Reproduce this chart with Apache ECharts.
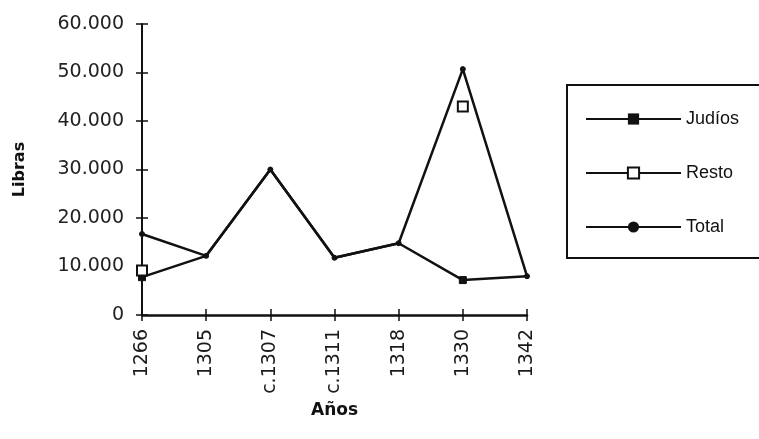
<!DOCTYPE html>
<html>
<head>
<meta charset="utf-8">
<script src="https://cdn.jsdelivr.net/npm/echarts@6/dist/echarts.min.js"></script>
<style>html,body{margin:0;padding:0;background:#fff}#c{width:759px;height:439px}</style>
</head>
<body>
<div id="c"></div>
<script>
var categories = ['1266', '1305', 'c.1307', 'c.1311', '1318', '1330', '1342'];
var judios = [7800, 12200, 30000, 11800, 14800, 7200, 8000];
var resto = [9200, null, null, null, null, 43000, null];
var total = [16700, 12200, 30000, 11800, 14800, 50700, 8000];
var yTicks = [0, 10000, 20000, 30000, 40000, 50000, 60000];

function fmt(v) {
  return String(v).replace(/\B(?=(\d{3})+(?!\d))/g, '.');
}

var chart = echarts.init(document.getElementById('c'));
var font = 'DejaVu Sans, Verdana, sans-serif';
var lfont = 'Liberation Sans, Arial, sans-serif';
var yMin = yTicks[0], yMax = yTicks[yTicks.length - 1];
chart.setOption({
  animation: false,
  backgroundColor: '#fff',
  grid: { left: 142, right: 232, top: 24, bottom: 124, containLabel: false, outerBoundsMode: 'none' },
  xAxis: [{
    type: 'category',
    data: categories,
    boundaryGap: false,
    name: 'Años',
    nameLocation: 'middle',
    nameGap: 81,
    nameTextStyle: { fontFamily: font, fontWeight: 'bold', fontSize: 17, color: '#111' },
    axisLine: { lineStyle: { color: '#111', width: 2.5 } },
    axisTick: { show: true, alignWithLabel: true, length: 6, lineStyle: { color: '#111', width: 1.5 } },
    axisLabel: { rotate: 90, fontFamily: font, fontSize: 19, color: '#1a1a1a', margin: 14 },
    splitLine: { show: false }
  }, {
    type: 'category',
    data: categories,
    boundaryGap: false,
    position: 'bottom',
    axisLine: { show: false },
    axisTick: { show: true, inside: true, alignWithLabel: true, length: 6, lineStyle: { color: '#111', width: 1.5 } },
    axisLabel: { show: false },
    splitLine: { show: false }
  }],
  yAxis: [{
    type: 'value',
    min: yMin,
    max: yMax,
    interval: 10000,
    name: 'Libras',
    nameLocation: 'middle',
    nameGap: 114,
    nameRotate: 90,
    nameTextStyle: { fontFamily: font, fontWeight: 'bold', fontSize: 16, color: '#111' },
    axisLine: { show: true, lineStyle: { color: '#111', width: 2 } },
    axisTick: { show: true, length: 6, lineStyle: { color: '#111', width: 1.5 } },
    axisLabel: { fontFamily: font, fontSize: 19, color: '#222', margin: 18, formatter: fmt },
    splitLine: { show: false }
  }, {
    type: 'value',
    min: yMin,
    max: yMax,
    interval: 10000,
    position: 'left',
    axisLine: { show: false },
    axisTick: { show: true, inside: true, length: 6, lineStyle: { color: '#111', width: 1.5 } },
    axisLabel: { show: false },
    splitLine: { show: false }
  }],
  legend: {
    orient: 'vertical',
    left: 585,
    top: 109,
    padding: 0,
    itemWidth: 95,
    itemHeight: 14,
    itemGap: 34,
    textStyle: { fontFamily: lfont, fontSize: 18, lineHeight: 20, color: '#111' },
    data: ['Judíos', 'Resto', 'Total']
  },
  graphic: [{
    type: 'rect',
    shape: { x: 567, y: 85, width: 200, height: 173 },
    style: { fill: 'none', stroke: '#111', lineWidth: 2 },
    z: 100
  }],
  series: [
    {
      name: 'Judíos',
      type: 'line',
      data: judios,
      symbol: 'rect',
      symbolSize: function (v, p) { return judios[p.dataIndex] !== total[p.dataIndex] ? 7 : 0; },
      lineStyle: { color: '#111', width: 2.5 },
      itemStyle: { color: '#111', borderColor: '#111' },
      z: 3
    },
    {
      name: 'Resto',
      type: 'line',
      data: resto,
      symbol: 'rect',
      symbolSize: 10,
      connectNulls: false,
      lineStyle: { color: '#111', width: 2.5 },
      itemStyle: { color: '#fff', borderColor: '#111', borderWidth: 2 },
      z: 5
    },
    {
      name: 'Total',
      type: 'line',
      data: total,
      symbol: 'circle',
      symbolSize: 5,
      lineStyle: { color: '#111', width: 2.5 },
      itemStyle: { color: '#111', borderColor: '#111' },
      z: 4
    }
  ]
});
</script>
</body>
</html>
